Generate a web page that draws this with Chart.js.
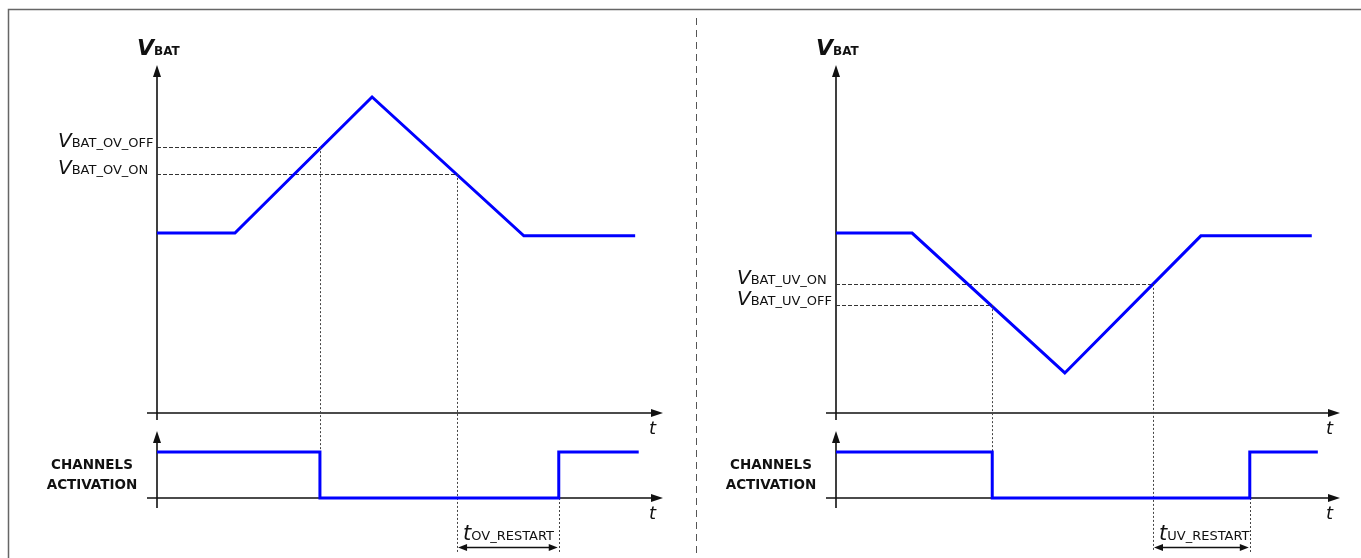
<!DOCTYPE html>
<html>
<head>
<meta charset="utf-8">
<script src="https://cdn.jsdelivr.net/npm/chart.js@4.4.1/dist/chart.umd.min.js"></script>
<style>
  html, body { margin: 0; padding: 0; background: #fff; }
  #stage { position: relative; width: 1361px; height: 558px; overflow: hidden; }
  #stage canvas { position: absolute; left: 0; top: 0; }
</style>
</head>
<body>
<div id="stage">
  <canvas id="frame" width="1361" height="558"></canvas>
  <canvas id="ovTop" width="1361" height="558"></canvas>
  <canvas id="ovBottom" width="1361" height="558"></canvas>
  <canvas id="uvTop" width="1361" height="558"></canvas>
  <canvas id="uvBottom" width="1361" height="558"></canvas>
</div>
<script>
// time runs 0..100 on both panels, VBAT in 0..100, channel state 0/1
const T_MIN = 0, T_MAX = 100;
const VBAT_MIN = 0, VBAT_MAX = 100;
const CH_MIN = 0, CH_MAX = 1.46;

// over-voltage case
const ovTime = [0, 15.4, 42.5, 72.5, 94.5];
const ovVbat = [51.7, 51.7, 90.8, 50.9, 50.9];
const ovLevels = [76.4, 68.7];
const ovLevelNames = ['BAT_OV_OFF', 'BAT_OV_ON'];
const ovCross = [32.2, 59.3];
const ovChTime = [0, 32.2, 79.4, 95.2];
const ovChState = [1, 0, 1, 1];
const ovRestartName = 'OV_RESTART';

// under-voltage case
const uvTime = [0, 15.1, 45.4, 72.4, 94.4];
const uvVbat = [51.7, 51.7, 11.5, 50.9, 50.9];
const uvLevels = [37.1, 31.0];
const uvLevelNames = ['BAT_UV_ON', 'BAT_UV_OFF'];
const uvCross = [62.9, 31.0];
const uvChTime = [0, 31.0, 82.1, 95.6];
const uvChState = [1, 0, 1, 1];
const uvRestartName = 'UV_RESTART';

const W = 1361, H = 558;
const BLUE = '#0000ff';
const INK = '#111';
const FAMILY = "'DejaVu Sans', 'Liberation Sans', sans-serif";

function toPoints(xs, ys) {
    return xs.map((x, i) => ({ x: x, y: ys[i] }));
}

function arrowHead(ctx, x, y, dir, len, half) {
    ctx.beginPath();
    ctx.moveTo(x, y);
    if (dir === 'up') {
        ctx.lineTo(x - half, y + len);
        ctx.lineTo(x + half, y + len);
    } else if (dir === 'right') {
        ctx.lineTo(x - len, y - half);
        ctx.lineTo(x - len, y + half);
    } else {
        ctx.lineTo(x + len, y - half);
        ctx.lineTo(x + len, y + half);
    }
    ctx.closePath();
    ctx.fill();
}

// big letter followed by a smaller run of text on the same baseline
function subText(ctx, x, y, main, sub, mainFont, subFont) {
    ctx.font = mainFont;
    ctx.fillText(main, x, y);
    const w = ctx.measureText(main).width;
    ctx.font = subFont;
    ctx.fillText(sub, x + w, y);
}

const diagramPlugin = {
    id: 'diagram',
    beforeDatasetsDraw(chart, args, opts) {
        const ctx = chart.ctx;
        const area = chart.chartArea;
        const xs = chart.scales.x, ys = chart.scales.y;
        const x0 = xs.getPixelForValue(T_MIN);
        const y0 = ys.getPixelForValue(ys.min);

        ctx.save();
        ctx.strokeStyle = INK;
        ctx.fillStyle = INK;
        ctx.lineWidth = 1.6;
        ctx.beginPath();
        ctx.moveTo(x0, area.top + 8);
        ctx.lineTo(x0, y0 + opts.tail);
        ctx.moveTo(x0 - 10, y0);
        ctx.lineTo(area.right - 8, y0);
        ctx.stroke();
        arrowHead(ctx, x0, area.top, 'up', 12, 4);
        arrowHead(ctx, area.right, y0, 'right', 12, 4);

        ctx.lineWidth = 1;
        if (opts.role === 'vbat') {
            // threshold levels, dashed up to where VBAT crosses them
            ctx.strokeStyle = '#333';
            ctx.setLineDash([4, 2]);
            opts.levels.forEach((lvl, i) => {
                const yp = Math.round(ys.getPixelForValue(lvl)) + 0.5;
                ctx.beginPath();
                ctx.moveTo(x0, yp);
                ctx.lineTo(xs.getPixelForValue(opts.cross[i]), yp);
                ctx.stroke();
            });
        } else {
            const top = opts.link.scales.y;
            const offT = Math.min(...opts.cross);
            const onT = Math.max(...opts.cross);
            const endT = opts.chTime[2];
            const bottom = y0 + 54;
            ctx.strokeStyle = '#444';
            ctx.setLineDash([2, 2]);
            const vline = (t, yA, yB) => {
                const xp = Math.round(xs.getPixelForValue(t)) + 0.5;
                ctx.beginPath();
                ctx.moveTo(xp, yA);
                ctx.lineTo(xp, yB);
                ctx.stroke();
            };
            opts.cross.forEach((t, i) => {
                const yA = top.getPixelForValue(opts.levels[i]);
                vline(t, yA, t === offT ? y0 : bottom);
            });
            vline(endT, y0, bottom);

            // restart interval arrow
            ctx.setLineDash([]);
            ctx.strokeStyle = INK;
            ctx.lineWidth = 1.5;
            const xa = xs.getPixelForValue(onT), xb = xs.getPixelForValue(endT);
            const ya = y0 + 49.5;
            ctx.beginPath();
            ctx.moveTo(xa + 6, ya);
            ctx.lineTo(xb - 6, ya);
            ctx.stroke();
            arrowHead(ctx, xa + 1, ya, 'left', 9, 3.5);
            arrowHead(ctx, xb - 1, ya, 'right', 9, 3.5);
        }
        ctx.restore();
    },
    afterDraw(chart, args, opts) {
        const ctx = chart.ctx;
        const area = chart.chartArea;
        const xs = chart.scales.x, ys = chart.scales.y;
        const x0 = xs.getPixelForValue(T_MIN);
        const y0 = ys.getPixelForValue(ys.min);

        ctx.save();
        ctx.fillStyle = INK;
        ctx.textBaseline = 'alphabetic';
        ctx.textAlign = 'left';
        ctx.font = 'italic 18px ' + FAMILY;
        ctx.fillText('t', area.right - 14, y0 + 21);

        if (opts.role === 'vbat') {
            subText(ctx, x0 - 20, area.top - 10, 'V', 'BAT',
                'italic bold 22px ' + FAMILY, 'bold 12px ' + FAMILY);
            opts.levels.forEach((lvl, i) => {
                const yp = ys.getPixelForValue(lvl);
                subText(ctx, x0 - 99, yp, 'V', opts.names[i],
                    'italic 20px ' + FAMILY, '13px ' + FAMILY);
            });
        } else {
            ctx.textAlign = 'center';
            ctx.font = 'bold 13.5px ' + FAMILY;
            ctx.fillText('CHANNELS', x0 - 65, area.top + 38);
            ctx.fillText('ACTIVATION', x0 - 65, area.top + 58);
            ctx.textAlign = 'left';
            const onT = Math.max(...opts.cross);
            subText(ctx, xs.getPixelForValue(onT) + 6, y0 + 42, 't', opts.restartName,
                'italic 21px ' + FAMILY, '13px ' + FAMILY);
        }
        ctx.restore();
    }
};

function signalChart(id, box, points, yMin, yMax, stepped, extras) {
    return new Chart(document.getElementById(id), {
        type: 'line',
        data: {
            datasets: [{
                data: points,
                borderColor: BLUE,
                borderWidth: 3,
                borderJoinStyle: 'miter',
                pointRadius: 0,
                fill: false,
                tension: 0,
                stepped: stepped,
                clip: false
            }]
        },
        options: {
            responsive: false,
            animation: false,
            devicePixelRatio: 1,
            events: [],
            layout: {
                padding: { left: box.left, right: W - box.right, top: box.top, bottom: H - box.bottom }
            },
            scales: {
                x: { type: 'linear', min: T_MIN, max: T_MAX, display: false },
                y: { type: 'linear', min: yMin, max: yMax, display: false }
            },
            plugins: {
                legend: { display: false },
                tooltip: { enabled: false },
                diagram: extras
            }
        },
        plugins: [diagramPlugin]
    });
}

function drawFrame() {
    const ctx = document.getElementById('frame').getContext('2d');
    ctx.strokeStyle = '#666';
    ctx.lineWidth = 1.5;
    ctx.beginPath();
    ctx.moveTo(W, 9.5);
    ctx.lineTo(8.5, 9.5);
    ctx.lineTo(8.5, H);
    ctx.stroke();

    ctx.strokeStyle = '#555';
    ctx.lineWidth = 1;
    ctx.setLineDash([7, 5]);
    ctx.beginPath();
    ctx.moveTo(696.5, 18);
    ctx.lineTo(696.5, 556);
    ctx.stroke();
}

function buildPanel(prefix, left, right, time, vbat, levels, names, cross, chTime, chState, restartName) {
    const top = signalChart(prefix + 'Top', { left, right, top: 65, bottom: 413 },
        toPoints(time, vbat), VBAT_MIN, VBAT_MAX, false,
        { role: 'vbat', tail: 7, levels, names, cross });
    signalChart(prefix + 'Bottom', { left, right, top: 431, bottom: 498 },
        toPoints(chTime, chState), CH_MIN, CH_MAX, 'before',
        { role: 'channel', tail: 10, link: top, levels, cross, chTime, restartName });
}

drawFrame();
buildPanel('ov', 157, 663, ovTime, ovVbat, ovLevels, ovLevelNames, ovCross, ovChTime, ovChState, ovRestartName);
buildPanel('uv', 836, 1340, uvTime, uvVbat, uvLevels, uvLevelNames, uvCross, uvChTime, uvChState, uvRestartName);
</script>
</body>
</html>
